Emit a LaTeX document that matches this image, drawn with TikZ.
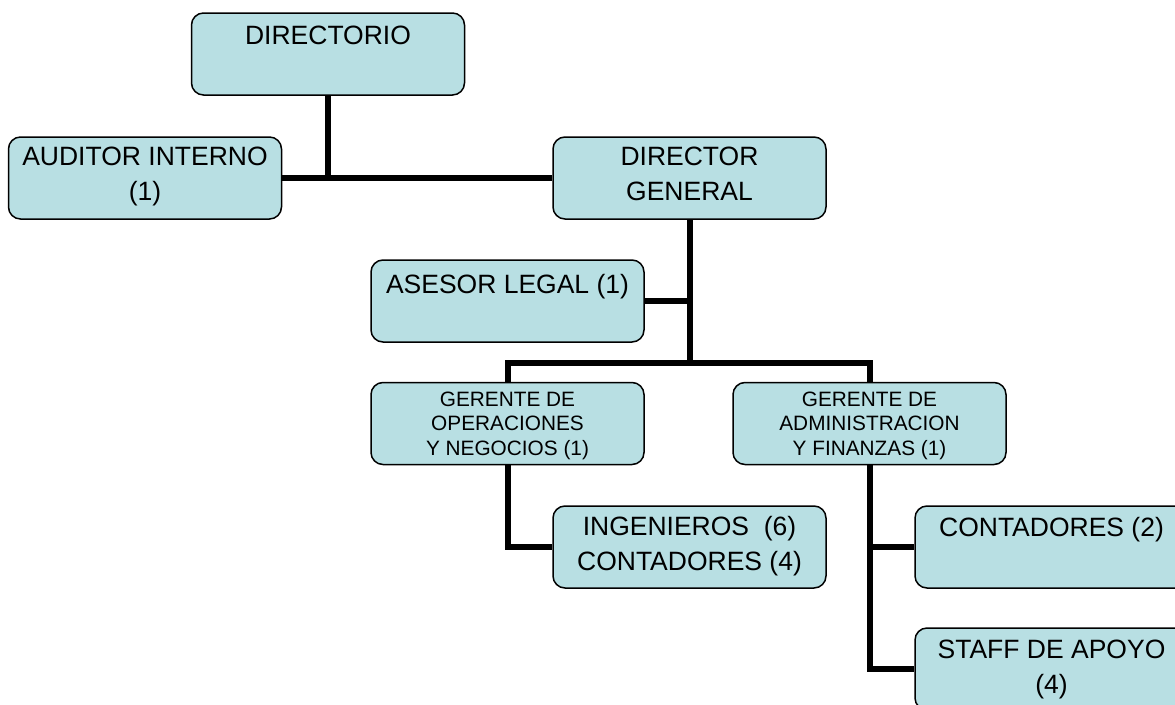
\documentclass[tikz,border=0pt]{standalone}
\usepackage{fontspec}
\setmainfont{Liberation Sans}
\usepackage{tikz}
\usetikzlibrary{positioning}
\definecolor{boxBlue}{RGB}{184,223,227}
\tikzset{every picture/.style={x=1pt, y=-1pt}}
\tikzstyle{block}=[draw=black, line width=1.5pt, fill=boxBlue, rounded corners=12pt, minimum width=273pt, minimum height=82pt, inner sep=0pt]
\tikzstyle{big}=[font=\fontsize{26.5}{35}\selectfont, align=center, anchor=north, inner sep=0pt]
\tikzstyle{small}=[font=\fontsize{20.8}{24.5}\selectfont, align=center, anchor=north, inner sep=0pt]
\tikzstyle{link}=[line width=6pt]
\begin{document}
\begin{tikzpicture}
        \useasboundingbox (0,0) rectangle (1175,704);
        \node [block,label={[big,yshift=-14pt]north:DIRECTORIO}] (dir) at (328,54) {};
        \node [block,label={[big,yshift=-11pt]north:{AUDITOR INTERNO\\(1)}}] (aud) at (145,178) {};
        \node [block,label={[big,yshift=-11pt]north:{DIRECTOR\\GENERAL}}] (dg) at (689.5,178) {};
        \node [block,label={[big,yshift=-15pt]north:{ASESOR LEGAL (1)}}] (ase) at (507.5,301) {};
        \node [block,label={[small,yshift=-10pt]north:{GERENTE DE\\OPERACIONES\\Y NEGOCIOS (1)}}] (gop) at (507.5,423.5) {};
        \node [block,label={[small,yshift=-10pt]north:{GERENTE DE\\ADMINISTRACION\\Y FINANZAS (1)}}] (gad) at (869.5,423.5) {};
        \node [block,label={[big,yshift=-11pt]north:{INGENIEROS~~(6)\\CONTADORES (4)}}] (ing) at (689.5,547) {};
        \node [block,label={[big,yshift=-12pt]north:{CONTADORES (2)}}] (con) at (1051.5,547) {};
        \node [block,label={[big,yshift=-13pt]north:{STAFF DE APOYO\\(4)}}] (sta) at (1051.5,669) {};
        \coordinate (bus) at (689.5,363);
        \draw [link] (dir) -- (dir |- aud);
        \draw [link] (aud) -- (dg);
        \draw [link] (dg) -- (bus);
        \draw [link] (ase) -- (ase -| dg);
        \draw [link] (gop) |- (bus) -| (gad);
        \draw [link] (gop) |- (ing);
        \draw [link] (gad) |- (con);
        \draw [link] (gad) |- (sta);
\end{tikzpicture}
\end{document}
